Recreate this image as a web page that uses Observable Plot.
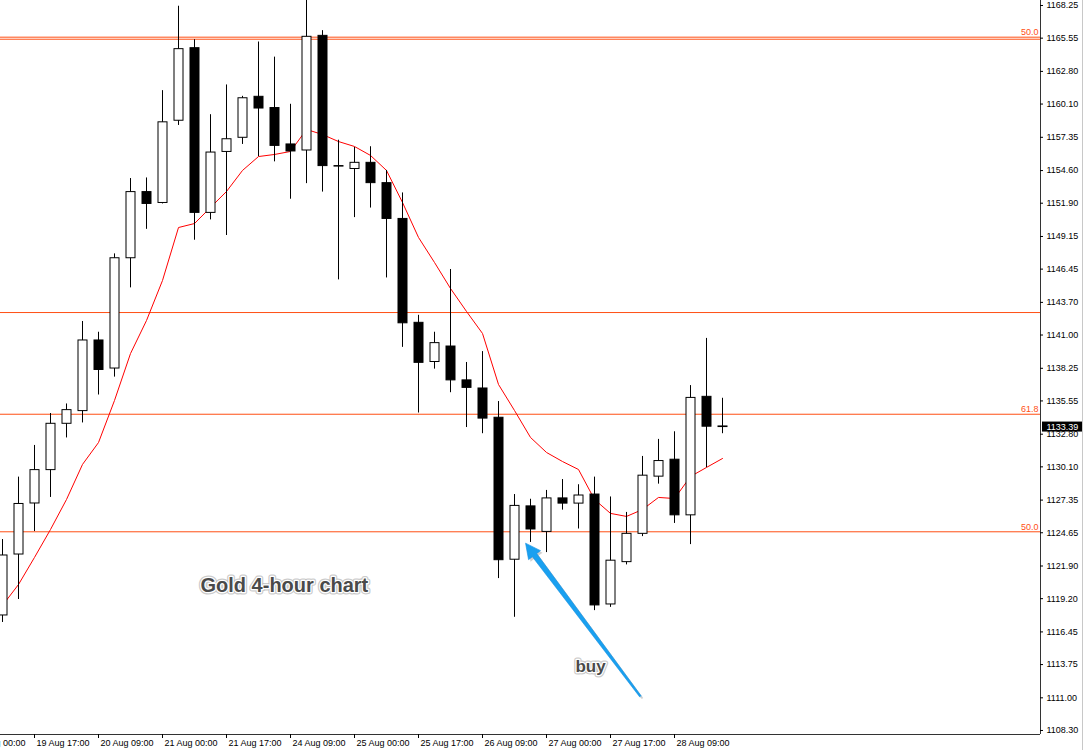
<!DOCTYPE html>
<html><head><meta charset="utf-8">
<script src="https://cdn.jsdelivr.net/npm/d3@7"></script>
<script src="https://cdn.jsdelivr.net/npm/@observablehq/plot@0.6"></script>
<style>html,body{margin:0;padding:0;background:#fff;overflow:hidden}</style>
</head><body><div id="chart"></div>
<script>
// ---- data ----
const opens  = [1117.81,1122.85,1127.07,1129.83,1133.66,1134.71,1140.55,1138.23,1147.35,1152.82,1151.92,1158.72,1164.72,1151.10,1156.14,1157.31,1160.70,1159.77,1156.76,1156.26,1165.74,1154.97,1154.73,1155.24,1153.56,1150.60,1142.01,1138.77,1140.05,1137.25,1136.58,1134.16,1122.42,1126.83,1124.72,1127.49,1127.06,1127.81,1118.72,1122.22,1124.56,1129.29,1130.69,1126.09,1135.89,1133.44];
const highs  = [1124.09,1129.25,1131.87,1134.51,1135.30,1142.12,1141.23,1147.71,1153.94,1153.99,1161.21,1168.19,1165.42,1159.22,1161.68,1160.74,1165.23,1163.98,1160.08,1169.20,1166.17,1157.11,1156.52,1156.57,1154.61,1152.75,1142.63,1141.23,1146.42,1138.73,1139.63,1135.50,1127.81,1127.42,1128.15,1129.05,1128.62,1129.25,1127.61,1126.33,1130.96,1132.37,1133.00,1136.82,1140.72,1135.77];
const lows   = [1117.23,1119.13,1124.75,1127.57,1132.49,1133.73,1136.04,1137.52,1144.90,1149.74,1151.84,1158.33,1148.84,1150.52,1149.23,1156.76,1155.75,1155.32,1152.23,1153.52,1152.82,1145.56,1150.71,1151.50,1145.72,1139.98,1134.55,1138.18,1136.23,1133.35,1132.84,1120.86,1117.66,1123.85,1123.01,1126.52,1124.96,1118.21,1118.48,1121.99,1124.33,1128.67,1125.42,1123.67,1130.03,1132.84];
const closes = [1122.77,1127.03,1129.83,1133.66,1134.79,1140.55,1138.11,1147.35,1152.82,1151.84,1158.59,1164.64,1151.10,1156.09,1157.19,1160.58,1159.73,1156.64,1156.18,1165.66,1154.97,1154.93,1155.24,1153.56,1150.60,1141.97,1138.70,1140.33,1137.25,1136.63,1134.09,1122.38,1126.87,1124.92,1127.49,1127.06,1127.73,1118.64,1122.34,1124.56,1129.37,1130.58,1126.09,1135.80,1133.42,1133.39];
const maValues = [1118.64,1120.37,1122.61,1124.92,1127.40,1130.30,1132.11,1135.59,1139.47,1142.20,1145.51,1149.89,1150.22,1151.55,1152.87,1154.61,1155.76,1155.93,1156.18,1158.00,1157.58,1157.00,1156.59,1155.85,1154.61,1151.96,1149.07,1147.00,1144.85,1142.95,1141.13,1136.91,1134.76,1132.53,1131.29,1130.54,1129.88,1127.40,1126.25,1126.00,1126.57,1127.57,1127.48,1129.30,1130.05,1130.79];

const xTickIndex  = [-2,2,6,10,14,18,22,26,30,34,38,42];
const xTickLabels = ["19 Aug 00:00","19 Aug 17:00","20 Aug 09:00","21 Aug 00:00","21 Aug 17:00","24 Aug 09:00","25 Aug 00:00","25 Aug 17:00","26 Aug 09:00","27 Aug 00:00","27 Aug 17:00","28 Aug 09:00"];
const yTickLabels = ["1168.25","1165.55","1162.80","1160.10","1157.35","1154.60","1151.90","1149.15","1146.45","1143.70","1141.00","1138.25","1135.55","1132.80","1130.10","1127.35","1124.65","1121.90","1119.20","1116.45","1113.75","1111.00","1108.30"];
const yTicks = yTickLabels.map(Number);

const levelPrices = [1165.63,1165.46,1142.86,1134.45,1124.73];
const levelLabels = ["50.0","","","61.8","50.0"];
const lastPrice = 1133.39;

const titleText = ["Gold 4-hour chart"], titleK = [12.375], titlePrice = [1120.24];
const buyText = ["buy"], buyK = [36.75], buyPrice = [1113.57];
const arrowTip = [32.69, 1123.79];
const arrowTail = [39.875, 1111.11];

// ---- layout ----
const W = 1085, H = 750, mR = 45, mB = 16;
const xDomain = [-0.125, 64.875];
const yDomain = [1107.967, 1168.663];
const pxPerK = (W - mR) / (xDomain[1] - xDomain[0]);
const pxPerP = (H - mB) / (yDomain[1] - yDomain[0]);
const toPx = ([k, p]) => [(k - xDomain[0]) * pxPerK, (yDomain[1] - p) * pxPerP];
const toData = ([x, y]) => [x / pxPerK + xDomain[0], yDomain[1] - y / pxPerP];

const candles = opens.map((o, i) => ({k: i, open: o, high: highs[i], low: lows[i], close: closes[i]}));
const ma = maValues.map((v, i) => ({k: i, v}));
const levels = levelPrices.map((p, i) => ({p, label: levelLabels[i]}));
const xticks = xTickIndex.map((k, i) => ({k, label: xTickLabels[i]}));
const yticks = yTicks.map((p, i) => ({p, label: yTickLabels[i]}));

// arrow polygon (tapered shaft + head)
const [tx, ty] = toPx(arrowTip), [sx, sy] = toPx(arrowTail);
const len = Math.hypot(tx - sx, ty - sy);
const ux = (tx - sx) / len, uy = (ty - sy) / len, nx = -uy, ny = ux;
const headLen = 15, headHalf = 7.5, shaftHead = 2.7, shaftTail = 0.9;
const bx = tx - ux * headLen, by = ty - uy * headLen;
const arrowPoly = [
  [sx + nx * shaftTail, sy + ny * shaftTail],
  [bx + nx * shaftHead, by + ny * shaftHead],
  [bx + nx * headHalf, by + ny * headHalf],
  [tx, ty],
  [bx - nx * headHalf, by - ny * headHalf],
  [bx - nx * shaftHead, by - ny * shaftHead],
  [sx - nx * shaftTail, sy - ny * shaftTail]
].map(toData);

const levelColor = "#ff4f14";
const font = "Liberation Sans, Arial, sans-serif";

const chart = Plot.plot({
  width: W, height: H,
  marginLeft: 0, marginRight: mR, marginTop: 0, marginBottom: mB,
  style: {fontFamily: font, fontSize: "9px", background: "white", color: "black"},
  x: {type: "linear", domain: xDomain, axis: null},
  y: {type: "linear", domain: yDomain, axis: null},
  marks: [
    // outer window border
    Plot.ruleX([xDomain[1] + 42 / pxPerK], {y1: yDomain[0] - 16 / pxPerP, y2: yDomain[1], stroke: "#c8c8c8"}),
    // level lines
    Plot.ruleY(levels, {y: "p", x1: xDomain[0], x2: xDomain[1], stroke: levelColor, strokeWidth: 1}),
    Plot.text(levels, {y: "p", text: "label", frameAnchor: "right", textAnchor: "end", dx: -2, dy: -5, fill: levelColor, fontSize: 9}),
    // moving average
    Plot.line(ma, {x: "k", y: "v", stroke: "#ff0000", strokeWidth: 1}),
    // candles
    Plot.ruleX(candles, {x: "k", y1: "low", y2: "high", stroke: "black", strokeWidth: 1}),
    Plot.rect(candles, {
      x1: d => d.k - 4 / pxPerK, x2: d => d.k + 5 / pxPerK,
      y1: "open", y2: "close",
      fill: d => d.close >= d.open ? "white" : "black",
      stroke: "black", strokeWidth: 1
    }),
    // axes
    Plot.ruleX([xDomain[1]], {y1: yDomain[0], y2: yDomain[1], stroke: "#333"}),
    Plot.ruleY([yDomain[0]], {x1: xDomain[0], x2: xDomain[1], stroke: "#333"}),
    Plot.ruleY(yticks, {y: "p", x1: xDomain[1], x2: xDomain[1] + 3 / pxPerK, stroke: "#000"}),
    Plot.text(yticks, {y: "p", x: xDomain[1], text: "label", textAnchor: "start", dx: 6, fill: "#000", fontSize: 9}),
    Plot.ruleX(xticks, {x: "k", y1: yDomain[0], y2: yDomain[0] - 4 / pxPerP, stroke: "#000"}),
    Plot.text(xticks, {x: "k", y: yDomain[0], text: "label", textAnchor: "start", dx: 2, dy: 9, fill: "#000", fontSize: 9}),
    // last price box
    Plot.rect([lastPrice], {x1: xDomain[1] + 2 / pxPerK, x2: xDomain[1] + 42 / pxPerK, y1: d => d - 5 / pxPerP, y2: d => d + 5 / pxPerP, fill: "black"}),
    Plot.text([lastPrice], {x: xDomain[1], y: d => d, text: d => d.toFixed(2), textAnchor: "start", dx: 6, fill: "white", fontSize: 9}),
    // arrow (shadow + body)
    Plot.line(arrowPoly, {x: d => d[0], y: d => d[1], fill: "#777", fillOpacity: 0.35, stroke: "none", dx: 2, dy: 2}),
    Plot.line(arrowPoly, {x: d => d[0], y: d => d[1], fill: "#19a0f0", stroke: "#1590e0", strokeWidth: 0.6}),
    // annotations
    Plot.text(titleText, {x: (d, i) => titleK[i], y: (d, i) => titlePrice[i], text: d => d, textAnchor: "start", fontSize: 20, fontWeight: "bold", fontFamily: font, fill: "#4a4a4a", stroke: "#b4b4b4", strokeWidth: 5, strokeOpacity: 0.7}),
    Plot.text(titleText, {x: (d, i) => titleK[i], y: (d, i) => titlePrice[i], text: d => d, textAnchor: "start", fontSize: 20, fontWeight: "bold", fontFamily: font, fill: "#4a4a4a", stroke: "white", strokeWidth: 2.5}),
    Plot.text(buyText, {x: (d, i) => buyK[i], y: (d, i) => buyPrice[i], text: d => d, fontSize: 17, fontWeight: "bold", fontFamily: font, fill: "#4a4a4a", stroke: "#b4b4b4", strokeWidth: 5, strokeOpacity: 0.7}),
    Plot.text(buyText, {x: (d, i) => buyK[i], y: (d, i) => buyPrice[i], text: d => d, fontSize: 17, fontWeight: "bold", fontFamily: font, fill: "#4a4a4a", stroke: "white", strokeWidth: 2.5})
  ]
});
document.getElementById("chart").appendChild(chart);
</script>
</body></html>
